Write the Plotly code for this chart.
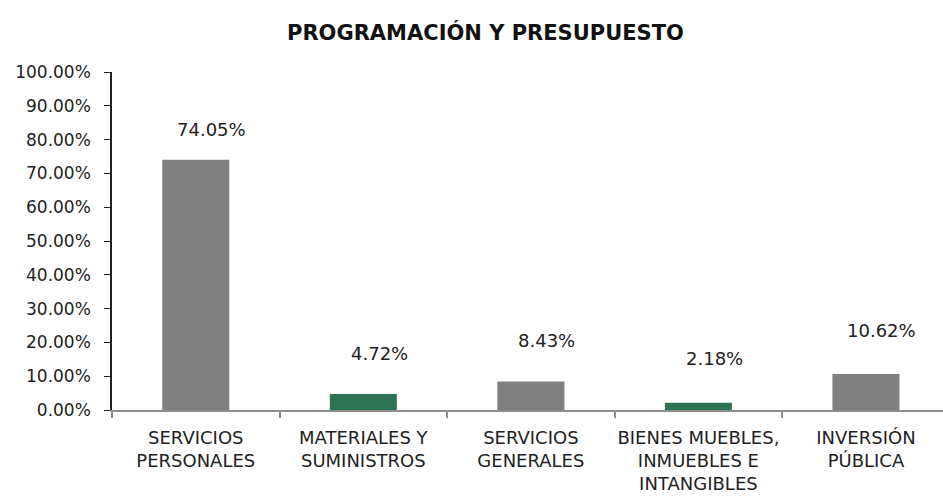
import plotly.graph_objects as go

# Budget share by expenditure chapter
categories = [
    "SERVICIOS<br>PERSONALES",
    "MATERIALES Y<br>SUMINISTROS",
    "SERVICIOS<br>GENERALES",
    "BIENES MUEBLES,<br>INMUEBLES E<br>INTANGIBLES",
    "INVERSIÓN<br>PÚBLICA",
]
shares = [0.7405, 0.0472, 0.0843, 0.0218, 0.1062]
bar_colors = ["#808080", "#2E7353", "#808080", "#2E7353", "#808080"]

# vertical offset (px) of each value label above its bar
label_lift = [30, 41, 41, 44, 44]

FONT = "DejaVu Sans"
TEXT = "#222222"

fig = go.Figure(
    go.Bar(
        x=categories,
        y=shares,
        marker=dict(color=bar_colors, line=dict(width=0)),
        width=0.4,
        hoverinfo="skip",
    )
)

for cat, val, lift in zip(categories, shares, label_lift):
    fig.add_annotation(
        x=cat, y=val, text=f"{val * 100:.2f}%",
        showarrow=False, xshift=16, yshift=lift, yanchor="middle",
        font=dict(family=FONT, size=18, color=TEXT),
    )

fig.add_annotation(
    xref="paper", yref="paper", x=0.45, y=1, yshift=40,
    text="<b>PROGRAMACIÓN Y PRESUPUESTO</b>", showarrow=False,
    xanchor="center", yanchor="middle",
    font=dict(family=FONT, size=21, color="#111111"),
)

fig.update_layout(
    width=943, height=501,
    margin=dict(l=112, r=0, t=72, b=91),
    paper_bgcolor="white", plot_bgcolor="white",
    showlegend=False,
    font=dict(family=FONT, size=17, color=TEXT),
    xaxis=dict(
        range=[-0.5, 4.46],
        showline=True, linecolor="#8C8C8C", linewidth=2,
        ticks="outside", tickson="boundaries", ticklen=6,
        tickcolor="#8C8C8C", tickwidth=2,
        tickangle=0, automargin=False,
        ticklabelstandoff=10,
        showgrid=False, zeroline=False,
        tickfont=dict(family=FONT, size=18, color=TEXT),
    ),
    yaxis=dict(
        range=[0, 1], dtick=0.1, tickformat=".2%",
        showline=True, linecolor="#222222", linewidth=1.5,
        ticks="outside", ticklen=6, tickcolor="#222222", tickwidth=1,
        ticklabelstandoff=10, automargin=False,
        showgrid=False, zeroline=False,
        tickfont=dict(family=FONT, size=17, color=TEXT),
    ),
)

fig.write_html("out.html")
